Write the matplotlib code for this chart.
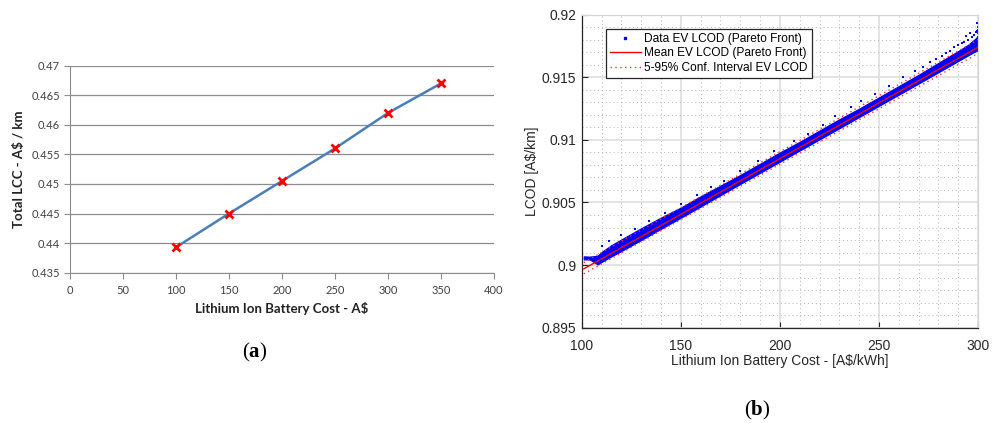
import numpy as np
import matplotlib
matplotlib.use("Agg")
from matplotlib import pyplot as plt
from matplotlib.lines import Line2D
from matplotlib.ticker import MultipleLocator

plt.rcParams["mathtext.fontset"] = "custom"
plt.rcParams["mathtext.rm"] = "Liberation Serif"
plt.rcParams["mathtext.bf"] = "Liberation Serif:bold"

# (a) total life-cycle cost against battery cost
cost_a = [100, 150, 200, 250, 300, 350]
lcc_a = [0.4393, 0.4450, 0.4505, 0.4560, 0.4620, 0.4670]

# (b) EV LCOD pareto front band against battery cost
band_x = [101, 104, 108, 110, 115, 120, 130, 140, 150, 160, 170, 180, 190,
          200, 210, 220, 230, 240, 250, 260, 270, 280, 290, 295, 298, 300]
band_upper = [0.90070, 0.90068, 0.90075, 0.90105, 0.90160, 0.90205, 0.90295,
              0.90380, 0.90460, 0.90550, 0.90635, 0.90720, 0.90810, 0.90900,
              0.90985, 0.91075, 0.91165, 0.91250, 0.91340, 0.91430, 0.91520,
              0.91615, 0.91710, 0.91760, 0.91800, 0.91830]
band_lower = [0.90045, 0.90045, 0.90005, 0.90025, 0.90070, 0.90112, 0.90200,
              0.90290, 0.90378, 0.90468, 0.90558, 0.90648, 0.90737, 0.90826,
              0.90915, 0.91004, 0.91093, 0.91182, 0.91272, 0.91361, 0.91450,
              0.91540, 0.91630, 0.91675, 0.91702, 0.91715]
# scattered points sitting off the dense band
spread_x = [110, 114, 120, 127, 134, 142, 150, 158, 165, 172, 180, 189, 197,
            207, 214, 222, 228, 236, 241, 248, 255, 262, 268, 272, 276, 279,
            282, 284, 286, 288, 290, 292, 293, 294, 295, 296, 297, 298, 299,
            299.5, 299.6, 299.8, 300, 300, 300, 300, 300]
spread_y = [0.9015, 0.9019, 0.9024, 0.9029, 0.9035, 0.9042, 0.9049, 0.9056,
            0.9062, 0.9067, 0.9075, 0.9083, 0.9091, 0.9099, 0.9105, 0.9112,
            0.9119, 0.9126, 0.9131, 0.9137, 0.9143, 0.9150, 0.9155, 0.9158,
            0.9162, 0.9165, 0.9167, 0.9169, 0.9171, 0.9174, 0.9176, 0.9177,
            0.9178, 0.9183, 0.9180, 0.9185, 0.9182, 0.9184, 0.9186, 0.9193,
            0.9187, 0.9190, 0.9188, 0.9185, 0.9182, 0.9179, 0.9176]
mean_x = [101, 300]
mean_y = [0.8997, 0.9174]
ci_upper = [0.9002, 0.9180]
ci_lower = [0.8993, 0.9169]

fig = plt.figure(figsize=(9.98, 4.23), dpi=100)

# ---------- (a) ----------
ax1 = fig.add_axes([0.0701, 0.3553, 0.4248, 0.4894])
ax1.plot(cost_a, lcc_a, color="#4a7ebb", lw=1.8, zorder=2)
ax1.plot(cost_a, lcc_a, ls="none", marker="x", ms=6, mew=2, color="red", zorder=3)
ax1.set_xlim(0, 400)
ax1.set_ylim(0.435, 0.47)
ax1.set_xticks(np.arange(0, 401, 50))
ax1.set_yticks(np.arange(0.435, 0.4701, 0.005))
ax1.set_yticklabels(["0.435", "0.44", "0.445", "0.45", "0.455", "0.46", "0.465", "0.47"])
ax1.grid(axis="y", color="#8c8c8c", lw=0.9)
ax1.set_axisbelow(True)
for s in ["top", "right"]:
    ax1.spines[s].set_visible(False)
for s in ["left", "bottom"]:
    ax1.spines[s].set_color("#8c8c8c")
ax1.tick_params(direction="out", length=4, color="#8c8c8c", labelsize=8,
                labelcolor="#404040", pad=3)
ax1.tick_params(axis="x", pad=5)
for lab in ax1.get_xticklabels() + ax1.get_yticklabels():
    lab.set_family("Lato")
ax1.set_xlabel("Lithium Ion Battery Cost - A$", family="Lato", weight="bold",
               fontsize=9.5, color="#222222", labelpad=4)
ax1.set_ylabel("Total LCC - A$ / km", family="Lato", weight="bold",
               fontsize=9.5, color="#222222", labelpad=5)
fig.text(0.2555, 1 - 352 / 423, r"$(\mathbf{a})$", fontsize=15,
         ha="center", va="center")

# ---------- (b) ----------
ax2 = fig.add_axes([0.5829, 0.2253, 0.3971, 0.74])
ax2.fill_between(band_x, band_lower, band_upper, color="#0000ff", lw=0.8,
                 edgecolor="#0000ff", zorder=2)
ax2.scatter(spread_x, spread_y, s=4, color="#0000ff", marker="s", lw=0, zorder=2)
ax2.plot(mean_x, mean_y, color="red", lw=1, zorder=3)
ax2.plot(mean_x, ci_upper, color="#ff3030", lw=1, ls=(0, (1, 2.5)), zorder=3)
ax2.plot(mean_x, ci_lower, color="#ff3030", lw=1, ls=(0, (1, 2.5)), zorder=3)
ax2.set_xlim(100, 300)
ax2.set_ylim(0.895, 0.92)
ax2.set_xticks([100, 150, 200, 250, 300])
ax2.set_yticks([0.895, 0.9, 0.905, 0.91, 0.915, 0.92])
ax2.set_yticklabels(["0.895", "0.9", "0.905", "0.91", "0.915", "0.92"])
ax2.xaxis.set_minor_locator(MultipleLocator(10))
ax2.yaxis.set_minor_locator(MultipleLocator(0.001))
ax2.grid(which="major", color="#e0e0e0", lw=1.3)
ax2.grid(which="minor", color="#b4b4b4", lw=0.7, ls=(0, (1, 3)))
ax2.set_axisbelow(True)
for s in ["left", "bottom"]:
    ax2.spines[s].set_color("#262626")
    ax2.spines[s].set_linewidth(0.9)
for s in ["top", "right"]:
    ax2.spines[s].set_color("#d6d6d6")
    ax2.spines[s].set_linewidth(0.9)
ax2.tick_params(which="major", direction="in", length=4, width=0.8,
                color="#262626", labelsize=10, labelcolor="#262626", pad=4)
ax2.tick_params(axis="x", which="major", pad=8)
ax2.tick_params(which="minor", length=0)
for lab in ax2.get_xticklabels() + ax2.get_yticklabels():
    lab.set_family("Liberation Sans")
ax2.set_xlabel("Lithium Ion Battery Cost - [A$/kWh]", family="Liberation Sans",
               fontsize=10, color="#262626", labelpad=1)
ax2.set_ylabel("LCOD [A$/km]", family="Liberation Sans", fontsize=10,
               color="#262626", labelpad=2)

handles = [
    Line2D([], [], ls="none", marker="s", ms=1.5, color="#0000ff"),
    Line2D([], [], color="red", lw=1),
    Line2D([], [], color="#ff3030", lw=1, ls=(0, (1, 2.5))),
]
labels = ["Data EV LCOD (Pareto Front)", "Mean EV LCOD (Pareto Front)",
          "5-95% Conf. Interval EV LCOD"]
leg = ax2.legend(handles, labels, loc="upper left", bbox_to_anchor=(0.06, 0.955),
                 prop={"family": "Liberation Sans", "size": 8.6}, frameon=True,
                 fancybox=False, framealpha=1, edgecolor="#262626",
                 handlelength=2.6, handletextpad=0.3, borderpad=0.35,
                 labelspacing=0.2, borderaxespad=0)
leg.get_frame().set_linewidth(0.9)

fig.text(757 / 998, 1 - 410 / 423, r"$(\mathbf{b})$", fontsize=15,
         ha="center", va="center")

fig.savefig("out.png", dpi=100)
